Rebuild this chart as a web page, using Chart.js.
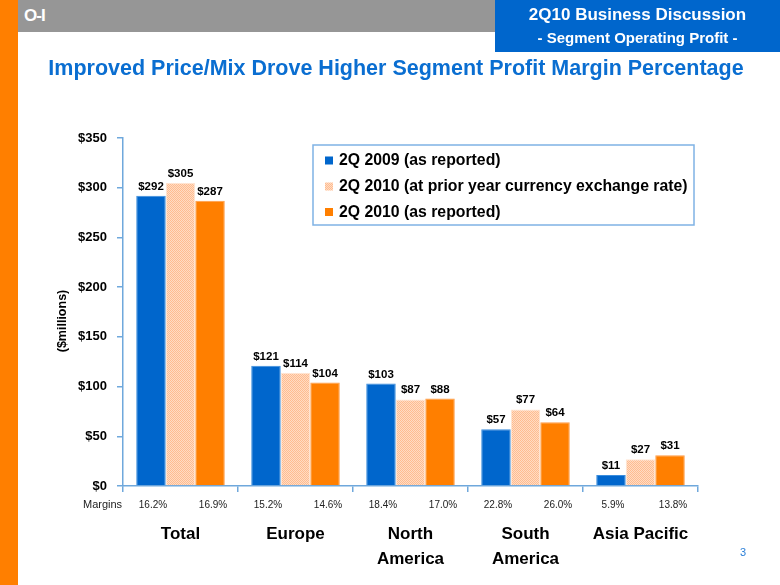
<!DOCTYPE html>
<html><head><meta charset="utf-8">
<script src="https://cdn.jsdelivr.net/npm/chart.js@4.4.1/dist/chart.umd.min.js"></script>
<style>
html,body{margin:0;padding:0;background:#fff;}
body{width:780px;height:585px;position:relative;overflow:hidden;font-family:"Liberation Sans",Arial,sans-serif;}
#c{position:absolute;left:0;top:0;}
.abs{position:absolute;white-space:nowrap;}
</style></head><body>
<canvas id="c" width="780" height="585"></canvas>
<div class="abs" style="left:0;top:0;width:18px;height:585px;background:#FF7F00"></div>
<div class="abs" style="left:18px;top:0;width:477px;height:32px;background:#969696"></div>
<div class="abs" style="left:24px;top:7px;color:#fff;font-weight:bold;font-size:17px;line-height:17px;letter-spacing:-1px">O-I</div>
<div class="abs" style="left:495px;top:0;width:285px;height:52px;background:#0066CC"></div>
<div class="abs" style="left:495px;top:5.6px;width:285px;text-align:center;color:#fff;font-weight:bold;font-size:17px;line-height:17px">2Q10 Business Discussion</div>
<div class="abs" style="left:495px;top:30.3px;width:285px;text-align:center;color:#fff;font-weight:bold;font-size:15px;line-height:15px">- Segment Operating Profit -</div>
<div class="abs" style="left:12px;top:58px;width:768px;text-align:center;color:#0A6ED1;font-weight:bold;font-size:21.5px;line-height:21.5px">Improved Price/Mix Drove Higher Segment Profit Margin Percentage</div>
<div class="abs" style="left:740px;top:546.7px;color:#2A7FD8;font-size:11px;line-height:11px">3</div>
<script>
const categories = [['Total'], ['Europe'], ['North', 'America'], ['South', 'America'], ['Asia Pacific']];
const series2009 = [292, 121, 103, 57, 11];
const series2010Prior = [305, 114, 87, 77, 27];
const series2010 = [287, 104, 88, 64, 31];
const seriesNames = ['2Q 2009 (as reported)', '2Q 2010 (at prior year currency exchange rate)', '2Q 2010 (as reported)'];
const margins2009 = ['16.2%', '15.2%', '18.4%', '22.8%', '5.9%'];
const margins2010 = ['16.9%', '14.6%', '17.0%', '26.0%', '13.8%'];
const marginsLabel = 'Margins';
const yAxisTitle = '($millions)';
const yTickValues = [0, 50, 100, 150, 200, 250, 300, 350];

const FAMILY = '"Liberation Sans", Arial, sans-serif';
const AXIS = '#6FA8DC';

const ctx = document.getElementById('c').getContext('2d');
function makePattern() {
  const p = document.createElement('canvas');
  p.width = 4; p.height = 4;
  const g = p.getContext('2d');
  g.fillStyle = '#FFDCC4'; g.fillRect(0, 0, 4, 4);
  g.fillStyle = '#FFBC90';
  for (let i = 0; i < 4; i++) { g.fillRect(i, i, 1, 1); g.fillRect((i + 2) % 4, i, 1, 1); }
  return ctx.createPattern(p, 'repeat');
}
const pattern = makePattern();

const valueLabels = {
  id: 'valueLabels',
  afterDatasetsDraw(chart) {
    const c = chart.ctx;
    c.save();
    c.font = 'bold 11.5px ' + FAMILY;
    c.fillStyle = '#000';
    c.textAlign = 'center';
    c.textBaseline = 'alphabetic';
    chart.data.datasets.forEach((ds, di) => {
      chart.getDatasetMeta(di).data.forEach((bar, i) => {
        c.fillText('$' + ds.data[i], bar.x, bar.y - 6);
      });
    });
    c.restore();
  }
};

const extras = {
  id: 'extras',
  afterDraw(chart) {
    const c = chart.ctx;
    c.save();
    // margins row
    c.font = '11px ' + FAMILY;
    c.fillStyle = '#222';
    c.textBaseline = 'middle';
    c.textAlign = 'left';
    c.fillText(marginsLabel, 83, 505);
    c.font = '10px ' + FAMILY;
    c.textAlign = 'center';
    const m0 = chart.getDatasetMeta(0).data, m2 = chart.getDatasetMeta(2).data;
    m0.forEach((b, i) => c.fillText(margins2009[i], b.x + 2, 505));
    m2.forEach((b, i) => c.fillText(margins2010[i], b.x + 3, 505));
    // y axis title
    c.save();
    c.translate(63, 321);
    c.rotate(-Math.PI / 2);
    c.font = 'bold 12.5px ' + FAMILY;
    c.fillStyle = '#000';
    c.textAlign = 'center';
    c.textBaseline = 'middle';
    c.fillText(yAxisTitle, 0, 0);
    c.restore();
    // legend
    c.fillStyle = '#fff';
    c.fillRect(313, 145, 381, 80);
    c.strokeStyle = '#7FB2E5';
    c.lineWidth = 1.5;
    c.strokeRect(313, 145, 381, 80);
    c.font = 'bold 15.8px ' + FAMILY;
    c.textAlign = 'left';
    c.textBaseline = 'alphabetic';
    const rows = [165, 191, 216.5];
    chart.data.datasets.forEach((ds, di) => {
      c.fillStyle = ds.backgroundColor;
      c.fillRect(325, rows[di] - 8.5, 8, 8);
      c.fillStyle = '#000';
      c.fillText(ds.label, 339, rows[di]);
    });
    c.restore();
  }
};

new Chart(ctx, {
  type: 'bar',
  data: {
    labels: categories,
    datasets: [
      { label: seriesNames[0], data: series2009, backgroundColor: '#0066CC', borderColor: '#3A8DDD', borderWidth: 1 },
      { label: seriesNames[1], data: series2010Prior, backgroundColor: pattern, borderColor: '#FFE6D4', borderWidth: 1 },
      { label: seriesNames[2], data: series2010, backgroundColor: '#FF7F00', borderColor: '#FF9B45', borderWidth: 1 }
    ]
  },
  options: {
    responsive: false, animation: false, devicePixelRatio: 1,
    layout: { padding: { top: 138, right: 82, left: 0, bottom: 0 } },
    datasets: { bar: { categoryPercentage: 0.77, barPercentage: 1 } },
    plugins: { legend: { display: false }, tooltip: { enabled: false } },
    scales: {
      x: {
        grid: { drawOnChartArea: false, tickLength: 6, color: AXIS, offset: true, lineWidth: 1.5 },
        border: { color: AXIS, width: 1.5 },
        ticks: { color: '#000', font: { family: FAMILY, size: 17, weight: 'bold', lineHeight: 1.45 }, padding: 30, maxRotation: 0, autoSkip: false },
        afterFit(s) { s.height = 99; }
      },
      y: {
        min: 0, max: 350,
        afterBuildTicks(s) { s.ticks = yTickValues.map(v => ({ value: v })); },
        ticks: { color: '#000', font: { family: FAMILY, size: 13, weight: 'bold' }, padding: 10, callback: v => '$' + v },
        grid: { drawOnChartArea: false, tickLength: 6, color: AXIS, lineWidth: 1.5 },
        border: { color: AXIS, width: 1.5 },
        afterFit(s) { s.width = 123; }
      }
    }
  },
  plugins: [valueLabels, extras]
});
</script>
</body></html>
